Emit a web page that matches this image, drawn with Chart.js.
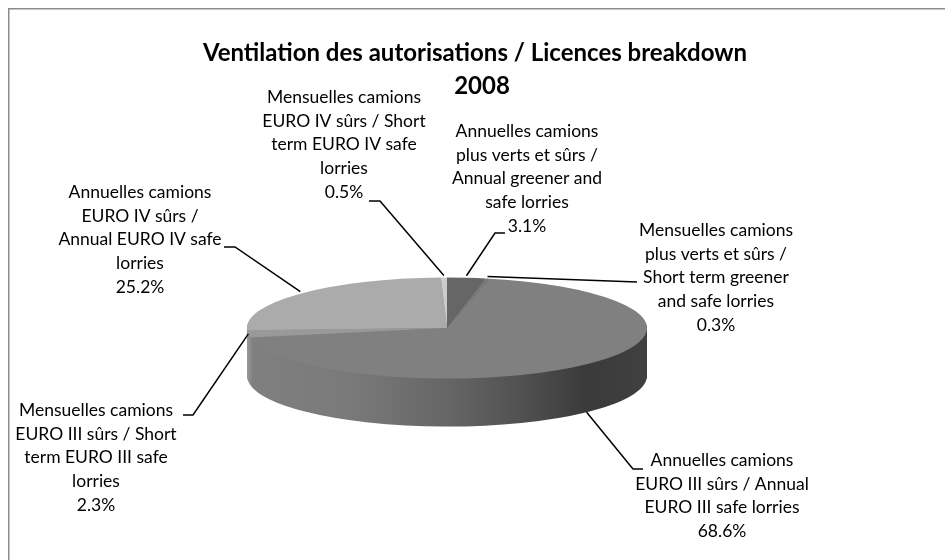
<!DOCTYPE html>
<html><head><meta charset="utf-8">
<style>html,body{margin:0;padding:0;background:#fff}canvas{display:block}</style>
<script src="https://cdn.jsdelivr.net/npm/chart.js@4"></script></head>
<body><div style="width:945px;height:560px"><canvas id="c" width="945" height="560"></canvas></div>
<script>
const titleLines = ['Ventilation des autorisations / Licences breakdown', '2008'];
const categories = [
  'Annuelles camions plus verts et sûrs / Annual greener and safe lorries',
  'Mensuelles camions plus verts et sûrs / Short term greener and safe lorries',
  'Annuelles camions EURO III sûrs / Annual EURO III safe lorries',
  'Mensuelles camions EURO III sûrs / Short term EURO III safe lorries',
  'Annuelles camions EURO IV sûrs / Annual EURO IV safe lorries',
  'Mensuelles camions EURO IV sûrs / Short term EURO IV safe lorries'
];
const values = [3.1, 0.3, 68.6, 2.3, 25.2, 0.5];
const sliceColors = ['#666666', '#7b7b7b', '#808080', '#999999', '#ababab', '#cccccc'];
const labelLines = [
  ['Annuelles camions', 'plus verts et sûrs /', 'Annual greener and', 'safe lorries', '3.1%'],
  ['Mensuelles camions', 'plus verts et sûrs /', 'Short term greener', 'and safe lorries', '0.3%'],
  ['Annuelles camions', 'EURO III sûrs / Annual', 'EURO III safe lorries', '68.6%'],
  ['Mensuelles camions', 'EURO III sûrs / Short', 'term EURO III safe', 'lorries', '2.3%'],
  ['Annuelles camions', 'EURO IV sûrs /', 'Annual EURO IV safe', 'lorries', '25.2%'],
  ['Mensuelles camions', 'EURO IV sûrs / Short', 'term EURO IV safe', 'lorries', '0.5%']
];
// label block layout: centre x, first baseline y, leader elbow, leader end
const labelLayout = [
  {x: 527, y: 137, elbow: [495, 233], end: [505, 233]},
  {x: 716, y: 236, elbow: null, end: [637, 282]},
  {x: 722, y: 466, elbow: [633, 469], end: [643, 469]},
  {x: 96, y: 416, elbow: [193, 415], end: [183, 415]},
  {x: 140, y: 198, elbow: [235, 247], end: [224, 247]},
  {x: 344, y: 103, elbow: [380, 201], end: [369, 201]}
];
const titleLayout = [{x: 475, y: 61}, {x: 482, y: 94}];
const SQUASH = 0.2525, DEPTH = 48, LINE_H = 23.7;
const LABEL_FONT = '17.5px Lato, Carlito, sans-serif';
const TITLE_FONT = 'bold 24px Lato, Carlito, sans-serif';

function squash(ctx, arc) {
  ctx.translate(arc.x, arc.y);
  ctx.scale(1, SQUASH);
  ctx.translate(-arc.x, -arc.y);
}
const pie3d = {
  id: 'pie3d',
  beforeDatasetsDraw(chart) {
    const ctx = chart.ctx, arcs = chart.getDatasetMeta(0).data, a0 = arcs[0];
    const g = ctx.createLinearGradient(a0.x - a0.outerRadius, 0, a0.x + a0.outerRadius, 0);
    [[0, '#999999'], [0.015, '#7f7f7f'], [0.25, '#7a7a7a'], [0.5, '#666666'], [0.7, '#4f4f4f'], [0.85, '#3a3a3a'], [1, '#404040']]
      .forEach(s => g.addColorStop(s[0], s[1]));
    for (let d = DEPTH; d > 0; d--) {
      ctx.save();
      ctx.translate(0, d);
      squash(ctx, a0);
      arcs.forEach(arc => {
        const saved = arc.options;
        arc.options = Object.assign({}, saved, {backgroundColor: g});
        arc.draw(ctx);
        arc.options = saved;
      });
      ctx.restore();
    }
    ctx.save();
    squash(ctx, a0);
  },
  afterDatasetsDraw(chart) {
    const ctx = chart.ctx, arcs = chart.getDatasetMeta(0).data;
    ctx.restore();
    ctx.save();
    ctx.strokeStyle = '#000000';
    ctx.lineWidth = 1.5;
    ctx.fillStyle = '#000000';
    ctx.textAlign = 'center';
    ctx.textBaseline = 'alphabetic';
    ctx.font = TITLE_FONT;
    titleLines.forEach((t, k) => ctx.fillText(t, titleLayout[k].x, titleLayout[k].y));
    ctx.font = LABEL_FONT;
    arcs.forEach((arc, i) => {
      const mid = (arc.startAngle + arc.endAngle) / 2;
      const cx = arc.x + arc.outerRadius * Math.cos(mid);
      let cy = arc.y + arc.outerRadius * SQUASH * Math.sin(mid);
      if (Math.sin(mid) > 0.3) cy += DEPTH;
      if (Math.sin(mid) < -0.3) cy -= 2;
      const L = labelLayout[i];
      ctx.beginPath();
      ctx.moveTo(cx, cy);
      if (L.elbow) ctx.lineTo(L.elbow[0], L.elbow[1]);
      ctx.lineTo(L.end[0], L.end[1]);
      ctx.stroke();
      labelLines[i].forEach((t, k) => ctx.fillText(t, L.x, L.y + k * LINE_H));
    });
    ctx.restore();
  }
};
const frame = {
  id: 'frame',
  beforeDraw(chart) {
    const ctx = chart.ctx;
    ctx.save();
    ctx.fillStyle = '#ffffff';
    ctx.fillRect(0, 0, 945, 560);
    ctx.strokeStyle = '#8c8c8c';
    ctx.lineWidth = 1.5;
    ctx.beginPath();
    ctx.moveTo(8.75, 560);
    ctx.lineTo(8.75, 8.75);
    ctx.lineTo(945, 8.75);
    ctx.stroke();
    ctx.restore();
  }
};
new Chart(document.getElementById('c'), {
  type: 'pie',
  data: {labels: categories, datasets: [{data: values, backgroundColor: sliceColors, borderWidth: 0}]},
  options: {
    responsive: false,
    animation: false,
    layout: {padding: {left: 247, right: 298, top: 128, bottom: 32}},
    plugins: {
      legend: {display: false},
      tooltip: {enabled: false},
      title: {display: false}
    }
  },
  plugins: [frame, pie3d]
});
</script></body></html>
